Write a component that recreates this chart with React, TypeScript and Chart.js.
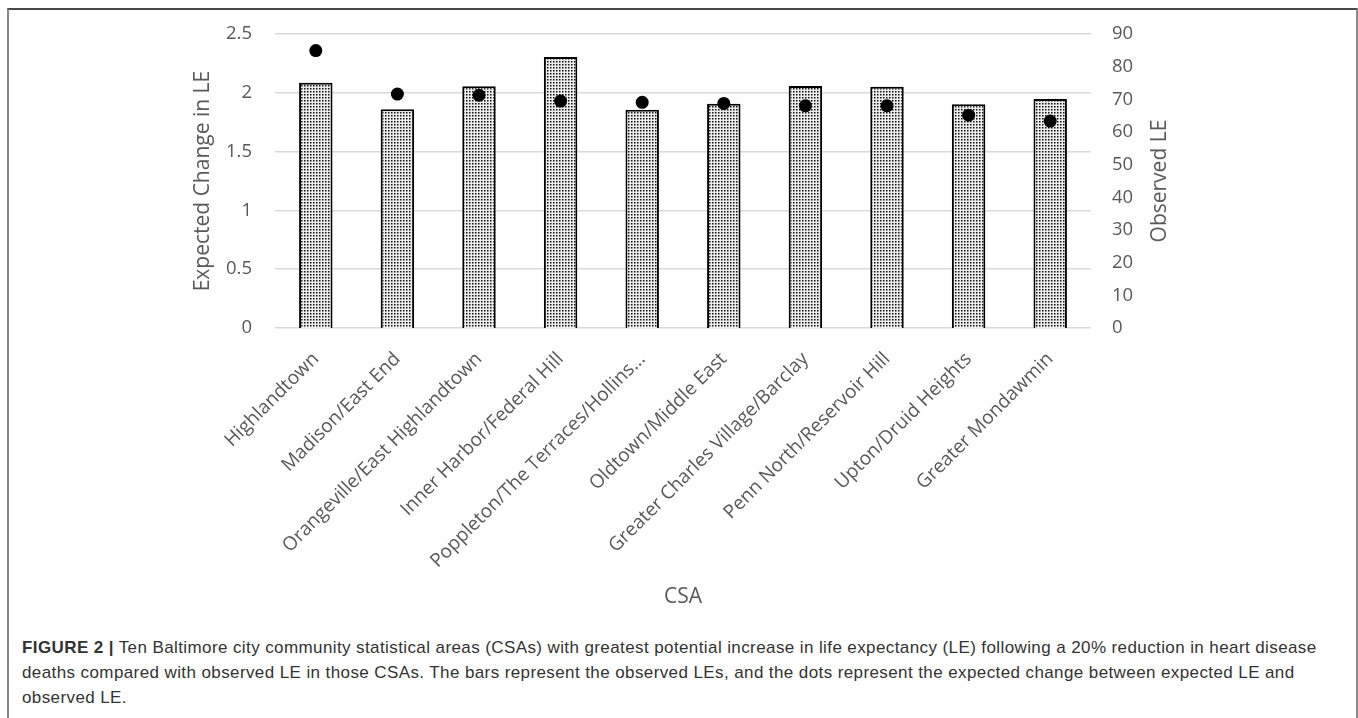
import React, { useEffect, useRef } from "react";
import { Chart, registerables } from "chart.js";

Chart.register(...registerables);

const categories: string[] = [
  "Highlandtown",
  "Madison/East End",
  "Orangeville/East Highlandtown",
  "Inner Harbor/Federal Hill",
  "Poppleton/The Terraces/Hollins...",
  "Oldtown/Middle East",
  "Greater Charles Village/Barclay",
  "Penn North/Reservoir Hill",
  "Upton/Druid Heights",
  "Greater Mondawmin",
];

// Observed LE (bars, right axis)
const observedLE: number[] = [75.1, 67.0, 74.0, 83.0, 66.8, 68.7, 74.1, 73.9, 68.5, 70.1];

// Expected change in LE (dots, left axis)
const expectedChange: number[] = [2.36, 1.99, 1.98, 1.93, 1.92, 1.91, 1.89, 1.89, 1.81, 1.76];

const leftTicks: number[] = [0, 0.5, 1, 1.5, 2, 2.5];
const rightTicks: number[] = [0, 10, 20, 30, 40, 50, 60, 70, 80, 90];

const leftTitle = "Expected Change in LE";
const rightTitle = "Observed LE";
const xTitle = "CSA";

const FONT = "'Open Sans', sans-serif";
const TEXT = "#595959";

function makePattern(): CanvasPattern | string {
  const c = document.createElement("canvas");
  c.width = 3;
  c.height = 3;
  const g = c.getContext("2d");
  if (!g) return "#bbb";
  g.fillStyle = "#ececec";
  g.fillRect(0, 0, 3, 3);
  g.fillStyle = "#111";
  g.fillRect(1, 1, 1.5, 1.5);
  const p = g.createPattern(c, "repeat");
  return p || "#bbb";
}

export default function App() {
  const ref = useRef<HTMLCanvasElement | null>(null);

  useEffect(() => {
    if (!ref.current) return;
    const pattern = makePattern();

    const rightTitlePlugin = {
      id: "rightTitle",
      afterDraw(chart: any) {
        const s = chart.scales.y1;
        const ctx = chart.ctx;
        ctx.save();
        ctx.fillStyle = TEXT;
        ctx.font = `21px ${FONT}`;
        ctx.textAlign = "center";
        ctx.textBaseline = "middle";
        const cx = 1160;
        const cy = (s.top + s.bottom) / 2;
        ctx.translate(cx, cy);
        ctx.rotate(-Math.PI / 2);
        ctx.fillText(rightTitle, 0, 0);
        ctx.restore();
      },
    };

    const chart = new Chart(ref.current, {
      type: "bar",
      data: {
        labels: categories,
        datasets: [
          {
            type: "line",
            label: "Expected change",
            data: expectedChange,
            yAxisID: "y",
            showLine: false,
            pointRadius: 6.5,
            pointBackgroundColor: "#000",
            pointBorderWidth: 0,
            borderColor: "#000",
          } as any,
          {
            type: "bar",
            label: "Observed LE",
            data: observedLE,
            yAxisID: "y1",
            backgroundColor: pattern as any,
            borderColor: "#000",
            borderWidth: 2,
            barPercentage: 0.41,
            categoryPercentage: 1,
          } as any,
        ],
      },
      options: {
        animation: false,
        responsive: false,
        maintainAspectRatio: false,
        layout: { padding: { top: 33, bottom: 6, left: 186, right: 182 } },
        plugins: { legend: { display: false }, tooltip: { enabled: false } },
        scales: {
          x: {
            grid: { display: false },
            border: { display: false },
            ticks: {
              autoSkip: false,
              maxRotation: 45,
              minRotation: 45,
              color: TEXT,
              font: { family: FONT, size: 19 },
              padding: 12,
            },
            title: {
              display: true,
              text: xTitle,
              color: TEXT,
              font: { family: FONT, size: 21 },
              padding: { top: 4, bottom: 4 },
            },
            afterFit(scale: any) {
              scale.height = 286;
            },
          },
          y: {
            position: "left",
            min: 0,
            max: 2.5,
            afterBuildTicks(scale: any) {
              scale.ticks = leftTicks.map((v) => ({ value: v }));
            },
            grid: { color: "#d9d9d9", lineWidth: 1.5, drawTicks: false },
            border: { display: false },
            ticks: {
              color: TEXT,
              font: { family: FONT, size: 18.5 },
              padding: 23,
              callback: (v: any) => String(v),
            },
            title: {
              display: true,
              text: leftTitle,
              color: TEXT,
              font: { family: FONT, size: 21 },
              padding: { top: 4, bottom: 4 },
            },
            afterFit(scale: any) {
              scale.width = 89;
            },
          },
          y1: {
            position: "right",
            min: 0,
            max: 90,
            afterBuildTicks(scale: any) {
              scale.ticks = rightTicks.map((v) => ({ value: v }));
            },
            grid: { display: false, drawTicks: false },
            border: { display: false },
            ticks: {
              color: TEXT,
              font: { family: FONT, size: 18.5 },
              padding: 21,
              callback: (v: any) => String(v),
            },
            afterFit(scale: any) {
              scale.width = 85;
            },
          },
        },
      } as any,
      plugins: [rightTitlePlugin],
    });
    return () => chart.destroy();
  }, []);

  return (
    <div>
      <style>{"body{margin:0;}"}</style>
      <div
        style={{
          position: "absolute",
          left: 7,
          top: 8,
          width: 1347,
          height: 760,
          borderTop: "2px solid #4a4a4a",
          borderLeft: "2px solid #8a8a8a",
          borderRight: "2px solid #8a8a8a",
        }}
      />
      <canvas
        ref={ref}
        width={1358}
        height={620}
        style={{ position: "absolute", left: 0, top: 0, width: 1358, height: 620 }}
      />
      <div
        style={{
          position: "absolute",
          left: 22,
          top: 635,
          fontFamily: "'Liberation Sans', Arial, sans-serif",
          fontSize: 17,
          letterSpacing: "0.4px",
          lineHeight: "25px",
          color: "#333",
          whiteSpace: "nowrap",
        }}
      >
        <b>FIGURE 2 |</b> Ten Baltimore city community statistical areas (CSAs) with greatest potential increase in life expectancy (LE) following a 20% reduction in heart disease
        <br />
        deaths compared with observed LE in those CSAs. The bars represent the observed LEs, and the dots represent the expected change between expected LE and
        <br />
        observed LE.
      </div>
    </div>
  );
}
